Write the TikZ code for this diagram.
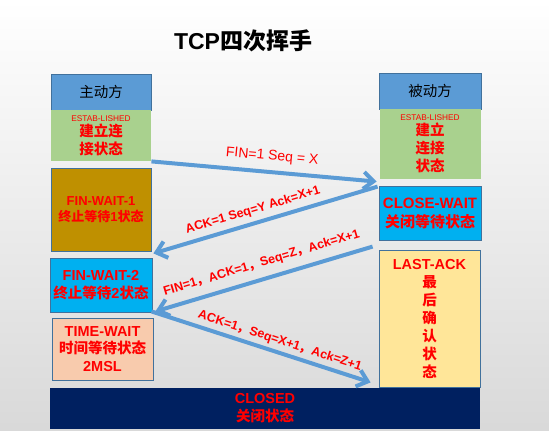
\documentclass[tikz,border=0pt]{standalone}
\usepackage{fontspec}
\setmainfont{Liberation Sans}
\newfontfamily\cjk{Noto Sans CJK SC}
\newcommand{\zh}[1]{{\cjk #1}}
\usetikzlibrary{arrows.meta,calc}

\definecolor{hdblue}{HTML}{5B9BD5}
\definecolor{boxline}{HTML}{41719C}
\definecolor{estabgreen}{HTML}{A9D18E}
\definecolor{waitgold}{HTML}{BF9000}
\definecolor{waitcyan}{HTML}{00B0F0}
\definecolor{timepeach}{HTML}{F8CBAD}
\definecolor{ackyellow}{HTML}{FFE699}
\definecolor{closednavy}{HTML}{002060}

\begin{document}
\begin{tikzpicture}[x=1pt,y=-1pt,
  box/.style={draw=boxline, line width=0.8pt, inner sep=0pt, align=center,
    text=red, font=\fontsize{14.5}{18}\selectfont\bfseries},
  head/.style={box, fill=hdblue, text=black, font=\fontsize{14.5}{18}\selectfont,
    minimum height=36pt},
  estab/.style={box, draw=none, fill=estabgreen},
  flow/.style={hdblue, line width=4pt, -{Straight Barb[length=10pt,width=17pt]}},
  msg/.style={sloped, text=red, inner sep=1pt, font=\fontsize{12.5}{14}\selectfont\bfseries},
]
\useasboundingbox (0,0) rectangle (549,431);
\fill[top color=white, bottom color=black!15] (0,0) rectangle (549,431);

\node[font=\fontsize{23}{26}\selectfont\bfseries] (title) at (243,41) {TCP\zh{四次挥手}};

% ---------- client side ----------
\node[head, minimum width=100pt] (active) at (101,92) {\zh{主动方}};
\node[estab, minimum width=100pt, minimum height=51pt] (estabL) at (101,135.5)
  {{\fontsize{8.3}{9}\selectfont\mdseries ESTAB-LISHED}\\[-3pt]\zh{建立连}\\\zh{接状态}};
\node[box, fill=waitgold, minimum width=100pt, minimum height=83pt,
  font=\fontsize{13}{16}\selectfont\bfseries] (finwait1) at (101,209.5)
  {FIN-WAIT-1\\\zh{终止等待}1\zh{状态}};
\node[box, fill=waitcyan, minimum width=102pt, minimum height=54pt] (finwait2) at (101,285)
  {FIN-WAIT-2\\\zh{终止等待}2\zh{状态}};
\node[box, fill=timepeach, minimum width=101pt, minimum height=62pt,
  font=\fontsize{14.5}{17.5}\selectfont\bfseries] (timewait) at (102.5,349)
  {TIME-WAIT\\\zh{时间等待状态}\\2MSL};

% ---------- server side ----------
\node[head, minimum width=102pt] (passive) at (430,91) {\zh{被动方}};
\node[estab, minimum width=101pt, minimum height=70pt] (estabR) at (430,144)
  {{\fontsize{8.3}{9}\selectfont\mdseries ESTAB-LISHED}\\[-3pt]\zh{建立}\\\zh{连接}\\\zh{状态}};
\node[box, fill=waitcyan, minimum width=102pt, minimum height=54pt,
  font=\fontsize{15}{19}\selectfont\bfseries] (closewait) at (430,213)
  {CLOSE-WAIT\\\zh{关闭等待状态}};
\node[box, fill=ackyellow, minimum width=101pt, minimum height=137pt] (lastack) at (429.5,318.5)
  {LAST-ACK\\\zh{最}\\\zh{后}\\\zh{确}\\\zh{认}\\\zh{状}\\\zh{态}};

% ---------- both closed ----------
\node[box, draw=none, fill=closednavy, minimum width=430pt, minimum height=41pt] (closed) at (265,408.5)
  {CLOSED\\\zh{关闭状态}};

% ---------- segments ----------
\coordinate (a1e) at ($(closewait.north west)+(-2,-4)$);
\coordinate (a2s) at ($(closewait.north west)+(-1,1)$);
\coordinate (a2e) at ($(finwait1.south east)+(2,2)$);
\coordinate (a3s) at ($(lastack.north west)+(-6,-3)$);
\coordinate (a3e) at ($(finwait2.south east)+(3,-1)$);
\coordinate (a4s) at ($(finwait2.south east)+(-1,-1)$);
\coordinate (a4e) at ($(lastack.south west)+(-8,-5)$);

\draw[flow] (estabL.south east) -- node[msg, above=6pt, pos=0.53,
  font=\fontsize{14}{16}\selectfont] {FIN=1 Seq = X} (a1e);
\draw[flow] (a2s) -- node[msg, above=4pt, pos=0.54] {ACK=1 Seq=Y Ack=X+1} (a2e);
\draw[flow] (a3s) -- node[msg, above=7pt, pos=0.49]
  {FIN=1\zh{，}ACK=1\zh{，}Seq=Z\zh{，}Ack=X+1} (a3e);
\draw[flow] (a4s) -- node[msg, above=2.5pt, pos=0.57]
  {ACK=1\zh{，}Seq=X+1\zh{，}Ack=Z+1} (a4e);

\end{tikzpicture}
\end{document}
